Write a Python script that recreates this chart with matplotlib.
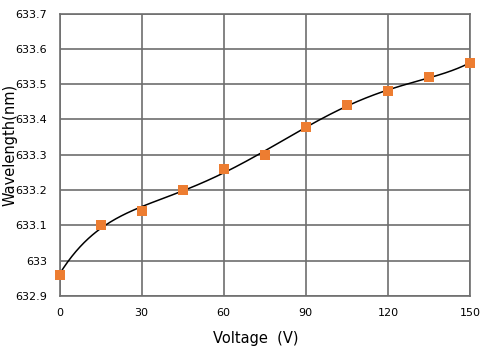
import matplotlib
matplotlib.use('Agg')
import matplotlib.pyplot as plt
import numpy as np
from matplotlib.ticker import FuncFormatter

# Measured points
voltage = [0, 15, 30, 45, 60, 75, 90, 105, 120, 135, 150]
wavelength = [632.96, 633.10, 633.14, 633.20, 633.26, 633.30,
              633.38, 633.44, 633.48, 633.52, 633.56]

x_ticks = [0, 30, 60, 90, 120, 150]
y_ticks = [632.9, 633.0, 633.1, 633.2, 633.3, 633.4, 633.5, 633.6, 633.7]

fig = plt.figure(figsize=(4.97, 3.53), dpi=100)
ax = fig.add_axes([59.5 / 497, 1 - 296 / 353, 410.5 / 497, 282.5 / 353])

# Trend curve: polynomial fit of the measured points
coef = np.polyfit(voltage, wavelength, 5)
xs = np.linspace(0, 150, 300)
ax.plot(xs, np.polyval(coef, xs), color='black', linewidth=1.1, zorder=3)

ax.plot(voltage, wavelength, 's', color='#ED7D31', markersize=7,
        markeredgewidth=0, zorder=4, clip_on=False)

ax.set_xlim(0, 150)
ax.set_ylim(632.9, 633.7)
ax.set_xticks(x_ticks)
ax.set_yticks(y_ticks)
ax.yaxis.set_major_formatter(FuncFormatter(lambda v, p: f'{round(v, 1):g}'))
ax.tick_params(length=0, labelsize=8, pad=9)
ax.grid(True, color='#6e6e6e', linewidth=1.2)
ax.set_axisbelow(True)
for s in ax.spines.values():
    s.set_color('#6e6e6e')
    s.set_linewidth(1.2)

ax.set_xlabel('Voltage  (V)', fontsize=10.5)
ax.set_ylabel('Wavelength(nm)', fontsize=10.5)
ax.xaxis.set_label_coords((256 - 59.5) / 410.5, -(338 - 296) / 282.5)
ax.yaxis.set_label_coords(-(59.5 - 10) / 410.5, (296 - 145) / 282.5)
ax.xaxis.label.set_va('center')
ax.yaxis.label.set_va('center')

fig.savefig('out.png', dpi=100)
